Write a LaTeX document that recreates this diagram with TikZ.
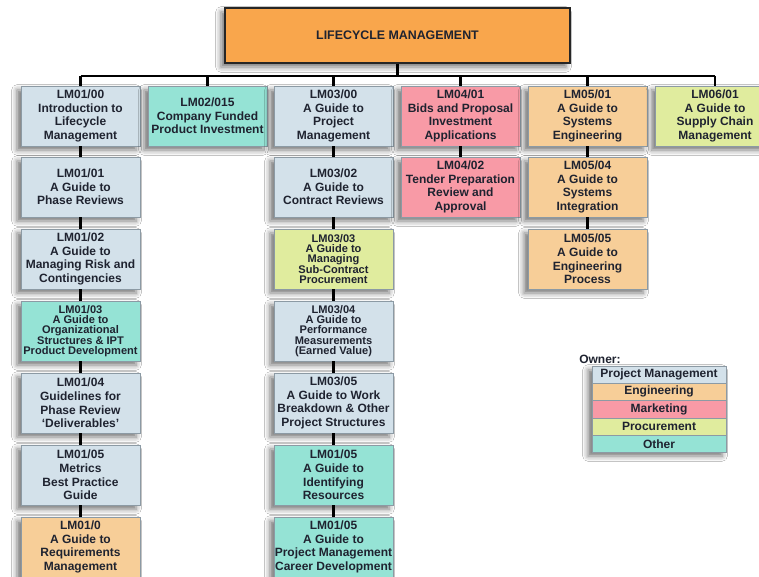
\documentclass[tikz,border=0pt]{standalone}
\usepackage{fontspec}
\setmainfont{Liberation Sans}
\usetikzlibrary{shadows.blur}
\definecolor{pmc}{HTML}{D3E1EA}
\definecolor{engc}{HTML}{F7CE98}
\definecolor{mktc}{HTML}{F89AA6}
\definecolor{proc}{HTML}{E0EC9E}
\definecolor{othc}{HTML}{95E3D5}
\definecolor{topc}{HTML}{F9A64C}
\definecolor{edgec}{HTML}{8C9AA4}
\definecolor{txtc}{HTML}{1F2330}
\tikzset{
  docbox/.style={rectangle, draw=edgec, line width=0.5pt, minimum width=89.25pt, minimum height=45pt,
    inner sep=0pt, align=center, text=txtc, font=\bfseries\fontsize{9}{10.2}\selectfont,
    blur shadow={shadow xshift=-3pt, shadow yshift=-3pt, shadow blur radius=4pt, shadow opacity=55}},
  small/.style={font=\bfseries\fontsize{8.3}{7.8}\selectfont},
  pm/.style={docbox, fill=pmc},
  eng/.style={docbox, fill=engc},
  mkt/.style={docbox, fill=mktc},
  pro/.style={docbox, fill=proc},
  oth/.style={docbox, fill=othc},
  link/.style={line width=2.2pt, black},
  legrow/.style={rectangle, draw=edgec, line width=0.5pt, minimum width=100.5pt, minimum height=13pt,
    inner sep=0pt, text=txtc, font=\bfseries\fontsize{9}{10}\selectfont}
}
\begin{document}
\begin{tikzpicture}[x=0.75pt,y=-0.75pt]
\useasboundingbox (0,0) rectangle (759,577);
\fill[white] (0,0) rectangle (759,577);

% top
\node[rectangle, draw=black!85, line width=1pt, fill=topc, minimum width=258.75pt, minimum height=41.25pt,
  text=txtc, font=\bfseries\fontsize{9.3}{11}\selectfont,
  blur shadow={shadow xshift=-3pt, shadow yshift=-3pt, shadow blur radius=4pt, shadow opacity=55}]
  (top) at (397.5,35.5) {LIFECYCLE MANAGEMENT};
\coordinate (bus) at (0,76);

% column 1
\node[pm] (a1) at (80.5,116) {LM01/00\\Introduction to\\Lifecycle\\Management};
\node[pm] (a2) at (80.5,187) {LM01/01\\A Guide to\\Phase Reviews};
\node[pm] (a3) at (80.5,259) {LM01/02\\A Guide to\\Managing Risk and\\Contingencies};
\node[oth,small] (a4) at (80.5,331) {LM01/03\\A Guide to\\Organizational\\Structures \& IPT\\Product Development};
\node[pm] (a5) at (80.5,403) {LM01/04\\Guidelines for\\Phase Review\\‘Deliverables’};
\node[pm] (a6) at (80.5,475) {LM01/05\\Metrics\\Best Practice\\Guide};
\node[eng] (a7) at (80.5,547) {LM01/0\\A Guide to\\Requirements\\Management};

% column 2
\node[oth] (b1) at (207.5,116) {LM02/015\\Company Funded\\Product Investment};

% column 3
\node[pm] (c1) at (333.5,116) {LM03/00\\A Guide to\\Project\\Management};
\node[pm] (c2) at (333.5,187) {LM03/02\\A Guide to\\Contract Reviews};
\node[pro,small] (c3) at (333.5,259) {LM03/03\\A Guide to\\Managing\\Sub-Contract\\Procurement};
\node[pm,small] (c4) at (333.5,331) {LM03/04\\A Guide to\\Performance\\Measurements\\(Earned Value)};
\node[pm] (c5) at (333.5,403) {LM03/05\\A Guide to Work\\Breakdown \& Other\\Project Structures};
\node[oth] (c6) at (333.5,475) {LM01/05\\A Guide to\\Identifying\\Resources};
\node[oth] (c7) at (333.5,547) {LM01/05\\A Guide to\\Project Management\\Career Development};

% column 4
\node[mkt] (d1) at (460.5,116) {LM04/01\\Bids and Proposal\\Investment\\Applications};
\node[mkt] (d2) at (460.5,187) {LM04/02\\Tender Preparation\\Review and\\Approval};

% column 5
\node[eng] (e1) at (587.5,116) {LM05/01\\A Guide to\\Systems\\Engineering};
\node[eng] (e2) at (587.5,187) {LM05/04\\A Guide to\\Systems\\Integration};
\node[eng] (e3) at (587.5,259) {LM05/05\\A Guide to\\Engineering\\Process};

% column 6
\node[pro] (f1) at (715,116) {LM06/01\\A Guide to\\Supply Chain\\Management};

% connectors
\draw[link] (top.south) -- (top.south |- bus);
\draw[link] (a1.north |- bus) -- (f1.north |- bus);
\foreach \n in {a1,b1,c1,d1,e1,f1} \draw[link] (\n.north |- bus) -- (\n.north);
\draw[link] (a1) -- (a2); \draw[link] (a2) -- (a3); \draw[link] (a3) -- (a4);
\draw[link] (a4) -- (a5); \draw[link] (a5) -- (a6); \draw[link] (a6) -- (a7);
\draw[link] (c1) -- (c2); \draw[link] (c2) -- (c3); \draw[link] (c3) -- (c4);
\draw[link] (c4) -- (c5); \draw[link] (c5) -- (c6); \draw[link] (c6) -- (c7);
\draw[link] (d1) -- (d2);
\draw[link] (e1) -- (e2); \draw[link] (e2) -- (e3);
% redraw nodes edges above links handled by link ends at borders

% legend
\node[anchor=south west, inner sep=0pt, text=txtc, font=\bfseries\fontsize{9}{10}\selectfont] (own) at (579,364) {Owner:};
\fill[white, blur shadow={shadow xshift=-3pt, shadow yshift=-3pt, shadow blur radius=4pt, shadow opacity=55}] (592,366) rectangle (726,452);
\node[legrow, fill=pmc] (l1) at (659,374.6) {Project Management};
\node[legrow, fill=engc] (l2) at (659,391.9) {Engineering};
\node[legrow, fill=mktc] (l3) at (659,409.2) {Marketing};
\node[legrow, fill=proc] (l4) at (659,426.5) {Procurement};
\node[legrow, fill=othc] (l5) at (659,443.8) {Other};
\end{tikzpicture}
\end{document}
